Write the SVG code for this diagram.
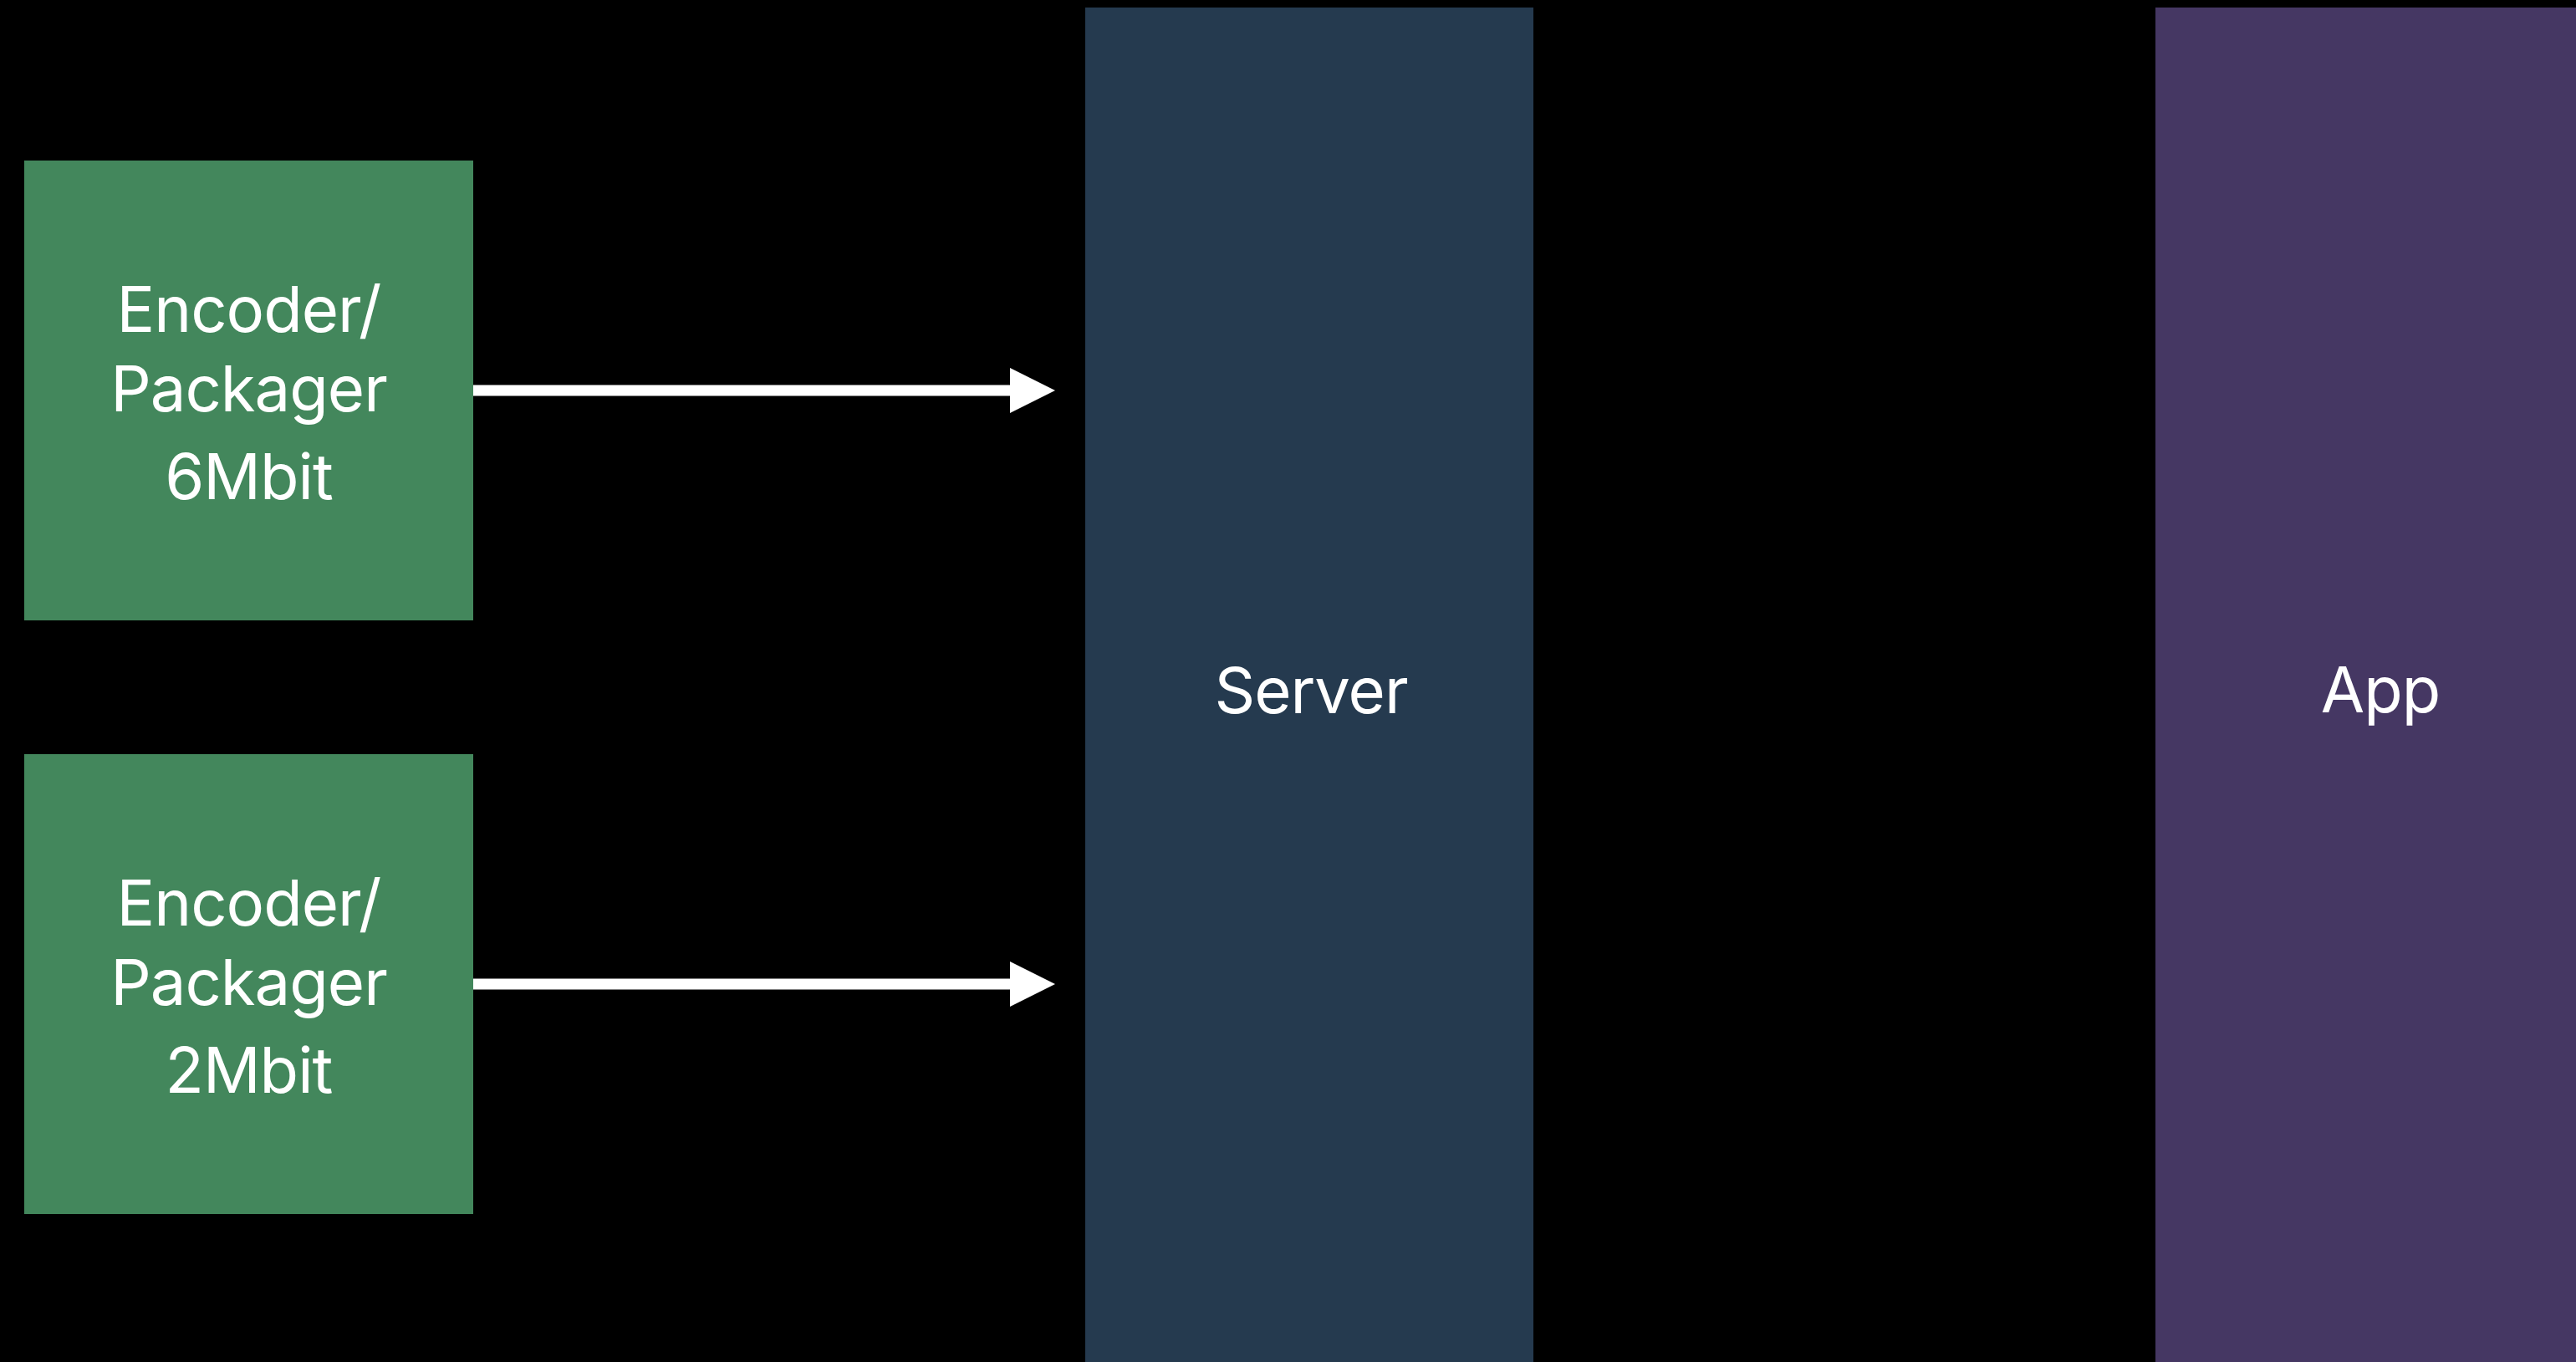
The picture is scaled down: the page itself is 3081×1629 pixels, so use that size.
<svg xmlns="http://www.w3.org/2000/svg" width="3081" height="1629" viewBox="0 0 3081 1629">
<style>
.enc{fill:#43875C}
.lbl{fill:#FFFFFF;font-family:Inter,"Liberation Sans",sans-serif;font-size:76px;letter-spacing:-1px;text-anchor:middle}
.conn{stroke:#FFFFFF;stroke-width:13;fill:none}
</style>
<defs>
<marker id="ah" markerUnits="userSpaceOnUse" markerWidth="54" markerHeight="54" refX="0" refY="27" orient="auto" overflow="visible">
<path d="M0,0 L54,27 L0,54 Z" fill="#FFFFFF"/>
</marker>
</defs>
<rect x="0" y="0" width="3081" height="1629" fill="#000000"/>
<g id="server">
<rect x="1298" y="9" width="536" height="1620" fill="#253A4F"/>
<text class="lbl" x="1568" y="853">Server</text>
</g>
<g id="app">
<rect x="2578" y="9" width="536" height="1620" fill="#453763"/>
<text class="lbl" x="2847" y="852">App</text>
</g>
<g id="encoder6">
<rect class="enc" x="29" y="192" width="537" height="550"/>
<text class="lbl" x="297.5" y="397">Encoder/</text>
<text class="lbl" x="297.5" y="492">Packager</text>
<text class="lbl" x="297.5" y="597">6Mbit</text>
</g>
<g id="encoder2">
<rect class="enc" x="29" y="902" width="537" height="550"/>
<text class="lbl" x="297.5" y="1107">Encoder/</text>
<text class="lbl" x="297.5" y="1202">Packager</text>
<text class="lbl" x="297.5" y="1307">2Mbit</text>
</g>
<g id="connectors">
<line class="conn" x1="566" y1="467" x2="1208" y2="467" marker-end="url(#ah)"/>
<line class="conn" x1="566" y1="1177" x2="1208" y2="1177" marker-end="url(#ah)"/>
</g>
</svg>
